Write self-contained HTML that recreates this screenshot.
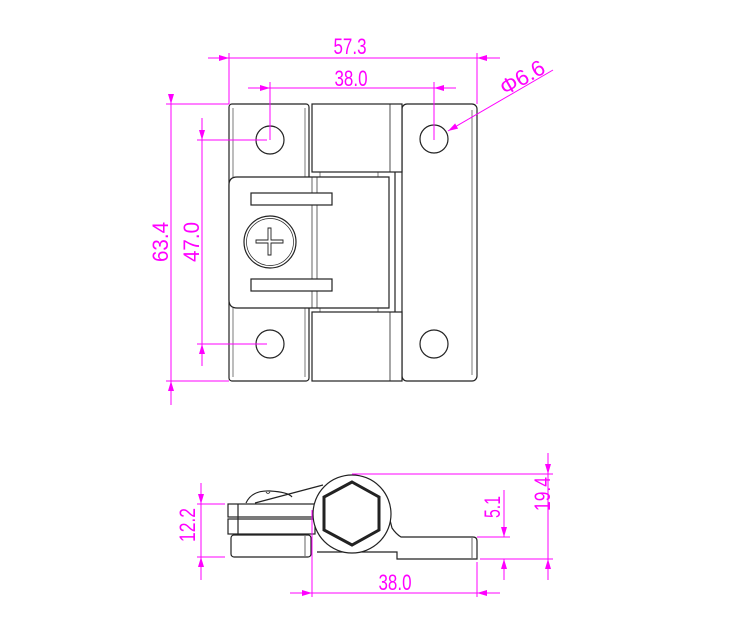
<!DOCTYPE html>
<html><head><meta charset="utf-8"><style>html,body{margin:0;padding:0;background:#fff}svg{display:block}</style></head><body>
<svg width="750" height="638" viewBox="0 0 750 638" xmlns="http://www.w3.org/2000/svg">
<defs>
<marker id="a" viewBox="0 0 10 6" refX="10" refY="3" markerWidth="10" markerHeight="6" markerUnits="userSpaceOnUse" orient="auto"><path d="M0,0 L10,3 L0,6 z" fill="#f0f"/></marker>
</defs>
<g fill="none" stroke="#222" stroke-width="1.2">
<rect x="229" y="104" width="80" height="277" rx="3"/>
<line x1="233" y1="108" x2="233" y2="377" stroke-width="0.6"/>
<line x1="305" y1="108" x2="305" y2="377" stroke-width="0.6"/>
<rect x="402" y="104" width="75" height="277" rx="5"/>
<line x1="472" y1="110" x2="472" y2="375" stroke-width="0.6"/>
<rect x="312" y="104" width="90" height="68" fill="#fff"/>
<path d="M390,104 v68" stroke-width="0.8"/>
<rect x="312" y="312" width="90" height="69" fill="#fff"/>
<path d="M390,312 v69" stroke-width="0.8"/>
<line x1="395" y1="172" x2="395" y2="312"/>
<line x1="320" y1="172" x2="320" y2="177" stroke-width="0.6"/>
<line x1="378" y1="172" x2="378" y2="177" stroke-width="0.6"/>
<line x1="320" y1="308" x2="320" y2="312" stroke-width="0.6"/>
<line x1="378" y1="308" x2="378" y2="312" stroke-width="0.6"/>
<path d="M389,177 H237 Q229,177 229,185 V300 Q229,308 237,308 H389 Z" fill="#fff"/>
<line x1="312" y1="177" x2="312" y2="308" stroke-width="0.7"/>
<line x1="317" y1="177" x2="317" y2="308" stroke-width="0.7"/>
<rect x="251" y="193" width="81" height="12" fill="#fff"/>
<rect x="251" y="279" width="81" height="12" fill="#fff"/>
<circle cx="270" cy="242" r="26"/>
<circle cx="270" cy="242" r="23.5" stroke-width="0.7"/>
<path d="M268,228 h3 v12 h12 v3 h-12 v12 h-3 v-12 h-12 v-3 h12 z" stroke-width="0.9"/>
<circle cx="270" cy="140" r="14"/>
<circle cx="434" cy="139" r="14"/>
<circle cx="270" cy="344" r="14"/>
<circle cx="434" cy="344" r="14"/>
<path d="M323,485 L255,503" />
<path d="M246,503 Q252,490 270,491 Q288,492 292,497"/>
<path d="M266,492 q2,3 4,0" stroke-width="0.8"/>
<rect x="228" y="504" width="87" height="13"/>
<line x1="238" y1="504" x2="238" y2="534"/>
<rect x="228" y="519" width="87" height="15"/>
<rect x="231" y="535" width="80" height="22" rx="3"/>
<line x1="305" y1="536" x2="305" y2="556" stroke-width="0.7"/>
<path d="M317,552 H397 V559 H477 V541 Q477,537 473,537 H401 Q396,534 392,528 L390,520" fill="#fff"/>
<line x1="472" y1="538" x2="472" y2="558" stroke-width="0.7"/>
<circle cx="352" cy="514" r="39" fill="#fff"/>
<path d="M352,482 L379,497 L379,530 L352,545 L324,530 L324,497 Z" stroke-width="3"/>
</g>
<g stroke="#f0f" stroke-width="1" fill="none">
<line x1="208" y1="58" x2="229" y2="58" marker-end="url(#a)"/>
<line x1="229" y1="58" x2="477" y2="58"/>
<line x1="500" y1="58" x2="477" y2="58" marker-end="url(#a)"/>
<line x1="229" y1="53" x2="229" y2="104"/>
<line x1="477" y1="53" x2="477" y2="104"/>
<line x1="248" y1="88" x2="270" y2="88" marker-end="url(#a)"/>
<line x1="270" y1="88" x2="434" y2="88"/>
<line x1="456" y1="88" x2="434" y2="88" marker-end="url(#a)"/>
<line x1="270" y1="82" x2="270" y2="140"/>
<line x1="434" y1="82" x2="434" y2="140"/>
<line x1="553" y1="70" x2="448" y2="131" marker-end="url(#a)"/>
<line x1="171" y1="95" x2="171" y2="104" marker-end="url(#a)"/>
<line x1="171" y1="104" x2="171" y2="381"/>
<line x1="171" y1="405" x2="171" y2="381" marker-end="url(#a)"/>
<line x1="166" y1="104" x2="229" y2="104"/>
<line x1="166" y1="381" x2="229" y2="381"/>
<line x1="202" y1="118" x2="202" y2="140" marker-end="url(#a)"/>
<line x1="202" y1="140" x2="202" y2="344"/>
<line x1="202" y1="366" x2="202" y2="344" marker-end="url(#a)"/>
<line x1="197" y1="140" x2="267" y2="140"/>
<line x1="197" y1="344" x2="267" y2="344"/>
<line x1="201" y1="483" x2="201" y2="504" marker-end="url(#a)"/>
<line x1="201" y1="504" x2="201" y2="557"/>
<line x1="201" y1="580" x2="201" y2="557" marker-end="url(#a)"/>
<line x1="197" y1="504" x2="225" y2="504"/>
<line x1="197" y1="557" x2="225" y2="557"/>
<line x1="548" y1="453" x2="548" y2="474" marker-end="url(#a)"/>
<line x1="548" y1="474" x2="548" y2="559"/>
<line x1="548" y1="580" x2="548" y2="559" marker-end="url(#a)"/>
<line x1="352" y1="474" x2="553" y2="474"/>
<line x1="480" y1="559" x2="553" y2="559"/>
<line x1="504" y1="490" x2="504" y2="537"/>
<line x1="504" y1="517" x2="504" y2="537" marker-end="url(#a)"/>
<line x1="504" y1="580" x2="504" y2="559" marker-end="url(#a)"/>
<line x1="477" y1="537" x2="510" y2="537"/>
<line x1="290" y1="593" x2="312" y2="593" marker-end="url(#a)"/>
<line x1="312" y1="593" x2="477" y2="593"/>
<line x1="500" y1="593" x2="477" y2="593" marker-end="url(#a)"/>
<line x1="312" y1="510" x2="312" y2="597"/>
<line x1="477" y1="562" x2="477" y2="597"/>
</g>
<g fill="#f0f" font-family="Liberation Sans, sans-serif" font-size="22" text-anchor="middle">
<text x="350" y="54" textLength="33" lengthAdjust="spacingAndGlyphs">57.3</text>
<text x="351" y="86" textLength="33" lengthAdjust="spacingAndGlyphs">38.0</text>
<text x="395" y="590" textLength="33" lengthAdjust="spacingAndGlyphs">38.0</text>
<text transform="translate(526,84) rotate(-30)" textLength="48" lengthAdjust="spacingAndGlyphs">Φ6.6</text>
<text transform="translate(168,242) rotate(-90)" textLength="40" lengthAdjust="spacingAndGlyphs">63.4</text>
<text transform="translate(199,242) rotate(-90)" textLength="40" lengthAdjust="spacingAndGlyphs">47.0</text>
<text transform="translate(195,525) rotate(-90)" textLength="34" lengthAdjust="spacingAndGlyphs">12.2</text>
<text transform="translate(550,494) rotate(-90)" textLength="34" lengthAdjust="spacingAndGlyphs">19.4</text>
<text transform="translate(500,507) rotate(-90)" textLength="22" lengthAdjust="spacingAndGlyphs">5.1</text>
</g>
</svg>
</body></html>
